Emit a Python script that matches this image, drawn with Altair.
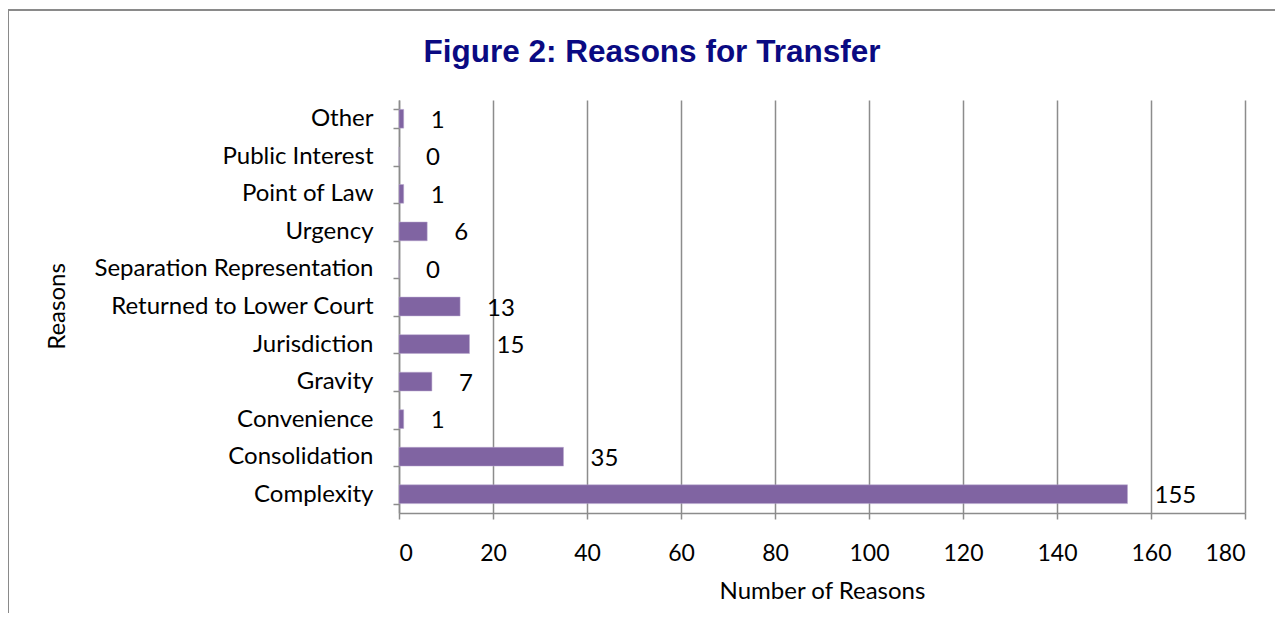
import altair as alt
import pandas as pd

title_text = "Figure 2: Reasons for Transfer"
reasons = ["Other", "Public Interest", "Point of Law", "Urgency",
           "Separation Representation", "Returned to Lower Court",
           "Jurisdiction", "Gravity", "Convenience", "Consolidation", "Complexity"]
counts = [1, 0, 1, 6, 0, 13, 15, 7, 1, 35, 155]
x_ticks = [0, 20, 40, 60, 80, 100, 120, 140, 160, 180]

df = pd.DataFrame({"Reason": reasons, "Count": counts})

FONT = "Lato"
GRAY = "#8c8c8c"

y_enc = alt.Y("Reason:N", sort=reasons,
              scale=alt.Scale(paddingInner=0.5, paddingOuter=0.25),
              axis=alt.Axis(title="Reasons", titleAngle=-90, titleX=-342, titleY=206,
                            titleAlign="center", titleBaseline="middle",
                            titleFont=FONT, titleFontSize=24, titleFontWeight="normal",
                            titleColor="black",
                            labelFont=FONT, labelFontSize=24, labelColor="black",
                            labelPadding=20, tickBand="extent", tickSize=6,
                            tickColor=GRAY, domainColor=GRAY, tickWidth=1.5,
                            domainWidth=1.5, grid=False, labelLimit=400))
x_enc = alt.X("Count:Q", scale=alt.Scale(domain=[0, 180], nice=False),
              axis=alt.Axis(title="Number of Reasons", values=x_ticks,
                            titleFont=FONT, titleFontSize=24, titleFontWeight="normal",
                            titleColor="black", titlePadding=14,
                            labelFont=FONT, labelFontSize=23, labelColor="black",
                            labelPadding=23, tickSize=6, tickColor=GRAY,
                            domainColor=GRAY, tickWidth=1.5, domainWidth=1.5,
                            grid=True, gridColor=GRAY, gridWidth=1.5))

base = alt.Chart(df)

bars = base.mark_bar(color="#8064A2", stroke="#b9a8cf", strokeWidth=0.5).encode(x=x_enc, y=y_enc)

labels = base.mark_text(align="left", baseline="middle", dx=27, dy=2,
                        font=FONT, fontSize=24, color="black").encode(
    x="Count:Q", y=alt.Y("Reason:N", sort=reasons), text="Count:Q")

border = base.mark_rect(fill=None, stroke="#8a8a8a", strokeWidth=1.5).encode(
    x=alt.value(-391), x2=alt.value(900), y=alt.value(-90), y2=alt.value(560))

title = alt.Chart(pd.DataFrame({"t": [title_text]})).mark_text(
    align="center", baseline="alphabetic", font="Liberation Sans", fontSize=31.5,
    fontWeight="bold", color="#0a0a82").encode(
    x=alt.value(253), y=alt.value(-38), text="t:N")

chart = alt.layer(bars, labels, border, title).properties(
    width=846, height=413,
    autosize=alt.AutoSizeParams(type="none"),
    padding={"left": 391, "top": 92, "right": 30, "bottom": 100},
).configure_view(strokeWidth=0)

chart.save("out.html", embed_options={"renderer": "svg", "actions": False})
